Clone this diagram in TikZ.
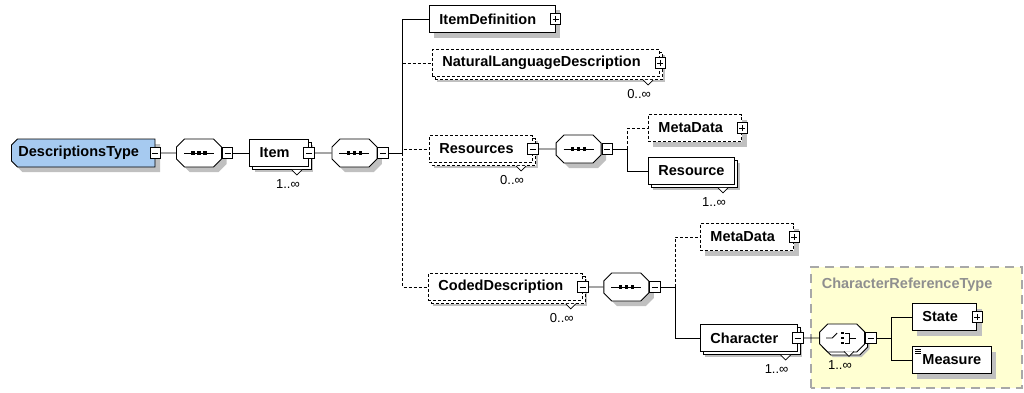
\documentclass[tikz,border=0pt]{standalone}
\usepackage{fontspec}
\setmainfont{Liberation Sans}
\usetikzlibrary{positioning,shapes.misc,shadows}
\definecolor{typeblue}{HTML}{A6CAF0}
\definecolor{regionyellow}{HTML}{FFFFD2}
\definecolor{shadowgray}{HTML}{C0C0C0}
\definecolor{regiongray}{HTML}{A8A8A8}
\newcommand{\infsym}{∞}

\begin{document}
\begin{tikzpicture}[x=1pt, y=1pt, line width=0.9pt,
  shade5/.style={drop shadow={shadow xshift=5pt, shadow yshift=-5pt, fill=shadowgray, opacity=1}},
  elem/.style={draw, fill=white, minimum height=27pt, inner xsep=10pt, inner ysep=0pt,
               font=\fontsize{14.5}{16}\selectfont\bfseries, anchor=west, shade5},
  hasbox/.style={execute at end node={\hspace*{9pt}}},
  opt/.style={dash pattern=on 3pt off 2pt},
  optelem/.style={elem, opt},
  many/.style={copy shadow={shadow xshift=3pt, shadow yshift=-3pt, draw=black, fill=white}},
  optmany/.style={copy shadow={shadow xshift=3pt, shadow yshift=-3pt, draw=black, fill=white, opt}},
  typebox/.style={chamfered rectangle, chamfered rectangle corners={north west,south west},
               chamfered rectangle xsep=3pt, chamfered rectangle ysep=3pt, draw, fill=typeblue,
               minimum height=28pt, inner xsep=4pt, inner ysep=0pt, anchor=west,
               font=\fontsize{14.5}{16}\selectfont\bfseries, shade5},
  comp/.style={chamfered rectangle, chamfered rectangle xsep=4pt, chamfered rectangle ysep=4pt,
               draw, fill=white, inner sep=0pt, shade5,
               execute at begin node={\hspace*{37pt}\rule{0pt}{20pt}}},
  pm/.style={draw, fill=white, minimum size=10.5pt, inner sep=0pt, line width=0.7pt},
  pmminus/.style={pm, path picture={
      \draw[shift={(path picture bounding box.center)}] (-3,0) -- (3,0);}},
  pmplus/.style={pm, path picture={
      \draw[shift={(path picture bounding box.center)}] (-3,0) -- (3,0) (0,-3) -- (0,3);}},
  occ/.style={font=\fontsize{13}{15}\selectfont, inner sep=0pt},
]
  \useasboundingbox (0,0) rectangle (1024,392);

  % complex type region
  \fill[regionyellow] (811,4) rectangle (1022,125);
  \draw[regiongray, line width=1.2pt, dash pattern=on 9pt off 6pt] (811,4) rectangle (1022,125);
  \node[anchor=west, text=regiongray!85!black, font=\fontsize{14.5}{16}\selectfont\bfseries]
    (crtype) at (818,107) {CharacterReferenceType};

  % root and item
  \node[typebox, hasbox] (desc) at (11,239) {DescriptionsType};
  \node[pmminus] (descX) at (desc.east) {};
  \node[comp, right=15pt of descX] (seqA) {};
  \node[pmminus, anchor=west] (seqAX) at (seqA.east) {};
  \node[elem, many, hasbox, right=16pt of seqAX] (item) {Item};
  \node[pmminus] (itemX) at (item.east) {};
  \node[comp, right=17pt of itemX] (seqB) {};
  \node[pmminus, anchor=west] (seqBX) at (seqB.east) {};

  % item children
  \node[elem, hasbox] (itemdef) at (429,373) {ItemDefinition};
  \node[pmplus] (itemdefX) at (itemdef.east) {};
  \node[optelem, optmany, hasbox] (nld) at (432,329) {NaturalLanguageDescription};
  \node[pmplus] (nldX) at (nld.east) {};
  \node[optelem, optmany, hasbox] (resources) at (429,243) {Resources};
  \node[pmminus] (resourcesX) at (resources.east) {};
  \node[optelem, optmany, hasbox] (coded) at (428,105) {CodedDescription};
  \node[pmminus] (codedX) at (coded.east) {};

  % resources
  \node[comp, right=17pt of resourcesX] (seqC) {};
  \node[pmminus, anchor=west] (seqCX) at (seqC.east) {};
  \node[optelem, hasbox] (metaA) at (648,264) {MetaData};
  \node[pmplus] (metaAX) at (metaA.east) {};
  \node[elem, many] (resource) at (648,221) {Resource};

  % coded description
  \node[comp, right=15pt of codedX] (seqD) {};
  \node[pmminus, anchor=west] (seqDX) at (seqD.east) {};
  \node[optelem, hasbox] (metaB) at (700,155) {MetaData};
  \node[pmplus] (metaBX) at (metaB.east) {};
  \node[elem, many, hasbox] (character) at (700,54) {Character};
  \node[pmminus] (characterX) at (character.east) {};
  \node[comp, many, right=16pt of characterX] (choice) {};
  \node[pmminus, anchor=west] (choiceX) at (choice.east) {};
  \node[elem, hasbox] (state) at (912,75) {State};
  \node[pmplus] (stateX) at (state.east) {};
  \node[elem] (measure) at (912,32) {Measure};

  % compositor icons
  \foreach \n in {seqA, seqB, seqC, seqD} {
    \draw ([xshift=-15pt]\n.center) -- ([xshift=15pt]\n.center);
    \foreach \d in {-6,0,6}
      \fill ([xshift=\d pt]\n.center) +(-1.7,-1.7) rectangle +(1.7,1.7);
  }
  \draw ([xshift=-16pt]choice.center) -- ++(6,0) -- ++(5,5);
  \foreach \d in {-5,0,5}
    \fill ([yshift=\d pt]choice.center) +(-1,-1.4) rectangle +(2,1.4);
  \draw ([xshift=3pt,yshift=5pt]choice.center) -- ++(4,0) -- ++(0,-10) -- ++(-4,0)
        ([xshift=7pt]choice.center) -- ++(7,0);
  % simple content mark
  \foreach \d in {3,5,7}
    \draw[line width=0.6pt] ([xshift=3pt,yshift=-\d pt]measure.north west) -- ++(6,0);

  % bus points
  \coordinate (busA) at ([xshift=14pt]seqBX.east);
  \coordinate (busB) at ([xshift=15pt]seqCX.east);
  \coordinate (busC) at ([xshift=15pt]seqDX.east);
  \coordinate (busD) at ([xshift=15pt]choiceX.east);

  % connectors
  \foreach \a/\b in {descX/seqA, seqAX/item, itemX/seqB, resourcesX/seqC, codedX/seqD, characterX/choice}
    \draw (\a) -- (\b);
  \foreach \a/\b in {seqBX/busA, seqCX/busB, seqDX/busC, choiceX/busD}
    \draw (\a.east) -- (\b);
  \foreach \a/\b in {busA/nld, busA/resources, busA/coded, busB/metaA, busC/metaB}
    \draw[opt] (\a) |- (\b);
  \foreach \a/\b in {busA/itemdef, busB/resource, busC/character, busD/state, busD/measure}
    \draw (\a) |- (\b);

  % occurrences
  \foreach \n/\m in {item/1, nld/0, resources/0, resource/1, coded/0, character/1, choice/1} {
    \draw[fill=white, line width=0.7pt] ([xshift=-17pt,yshift=-3pt]\n.south east) -- ++(5,-5) -- ++(5,5);
    \node[occ] at ([xshift=-21pt,yshift=-17pt]\n.south east) {\m..\infsym};
  }
\end{tikzpicture}
\end{document}
